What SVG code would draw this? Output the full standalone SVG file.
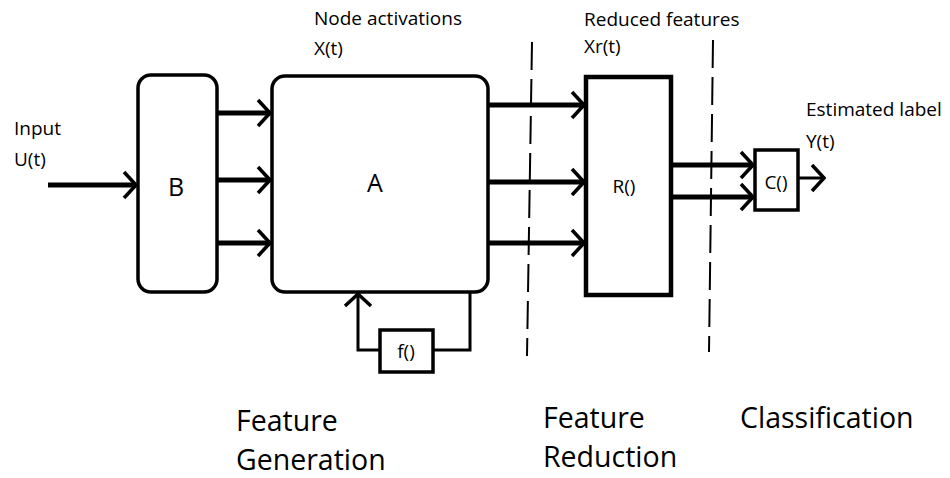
<svg xmlns="http://www.w3.org/2000/svg" width="950" height="478" viewBox="0 0 950 478">
  <style>
    .box { fill: #fff; stroke: #000; stroke-width: 3.5; }
    .wire { fill: none; stroke: #000; stroke-width: 5; stroke-linecap: butt; }
    .thin { fill: none; stroke: #000; stroke-width: 3; }
    .dash { fill: none; stroke: #000; stroke-width: 2; stroke-dasharray: 28 9; }
    text { font-family: "Open Sans", "Liberation Sans", sans-serif; fill: #000; }
    .lbl { font-size: 19px; }
    .big { font-size: 28.5px; }
  </style>
  <defs>
    <marker id="chev" viewBox="0 0 16 30" refX="14" refY="15" markerWidth="16" markerHeight="30" markerUnits="userSpaceOnUse" orient="auto">
      <path d="M2,2 L14,15 L2,28" fill="none" stroke="#000" stroke-width="3.5"/>
    </marker>
  </defs>

  <!-- section dividers -->
  <g id="dividers">
    <path class="dash" d="M532,42 L527,356"/>
    <path class="dash" d="M713,40 L709,352"/>
  </g>

  <!-- connectors -->
  <g id="connectors">
    <path class="wire" d="M48,185 H136" marker-end="url(#chev)"/>
    <path class="wire" d="M217,113 H270" marker-end="url(#chev)"/>
    <path class="wire" d="M217,180 H270" marker-end="url(#chev)"/>
    <path class="wire" d="M217,243 H270" marker-end="url(#chev)"/>
    <path class="wire" d="M488,105 H584" marker-end="url(#chev)"/>
    <path class="wire" d="M488,182 H584" marker-end="url(#chev)"/>
    <path class="wire" d="M488,243 H584" marker-end="url(#chev)"/>
    <path class="wire" d="M671,165 H753" marker-end="url(#chev)"/>
    <path class="wire" d="M671,197 H753" marker-end="url(#chev)"/>
    <path class="thin" d="M798,178 H824" marker-end="url(#chev)"/>
    <path class="thin" d="M470,292 V350 H433"/>
    <path class="thin" d="M380,350 H358 V294" marker-end="url(#chev)"/>
  </g>

  <g id="node-B">
    <rect class="box" x="138" y="75" width="79" height="217" rx="13"/>
    <text x="176" y="196" font-size="25" text-anchor="middle">B</text>
  </g>
  <g id="node-A">
    <rect class="box" x="272" y="76" width="216" height="216" rx="13"/>
    <text x="375" y="192" font-size="25" text-anchor="middle">A</text>
  </g>
  <g id="node-R">
    <rect class="box" x="586" y="77" width="85" height="218" style="stroke-width:4.5"/>
    <text x="624" y="193" class="lbl" text-anchor="middle">R()</text>
  </g>
  <g id="node-C">
    <rect class="box" x="755" y="150" width="43" height="60"/>
    <text x="776" y="189" class="lbl" text-anchor="middle">C()</text>
  </g>
  <g id="node-f">
    <rect class="box" x="380" y="330" width="53" height="42"/>
    <text x="406" y="358" class="lbl" text-anchor="middle">f()</text>
  </g>

  <!-- annotations -->
  <g id="labels">
    <text class="lbl" x="14" y="135">Input</text>
    <text class="lbl" x="14" y="166">U(t)</text>
    <text class="lbl" x="314" y="25">Node activations</text>
    <text class="lbl" x="314" y="55">X(t)</text>
    <text class="lbl" x="584" y="26">Reduced features</text>
    <text class="lbl" x="584" y="53">Xr(t)</text>
    <text class="lbl" x="806" y="116">Estimated label</text>
    <text class="lbl" x="806" y="148">Y(t)</text>
    <text class="big" x="236" y="431">Feature</text>
    <text class="big" x="236" y="470">Generation</text>
    <text class="big" x="543" y="428">Feature</text>
    <text class="big" x="543" y="467">Reduction</text>
    <text class="big" x="740" y="428">Classification</text>
  </g>
</svg>
